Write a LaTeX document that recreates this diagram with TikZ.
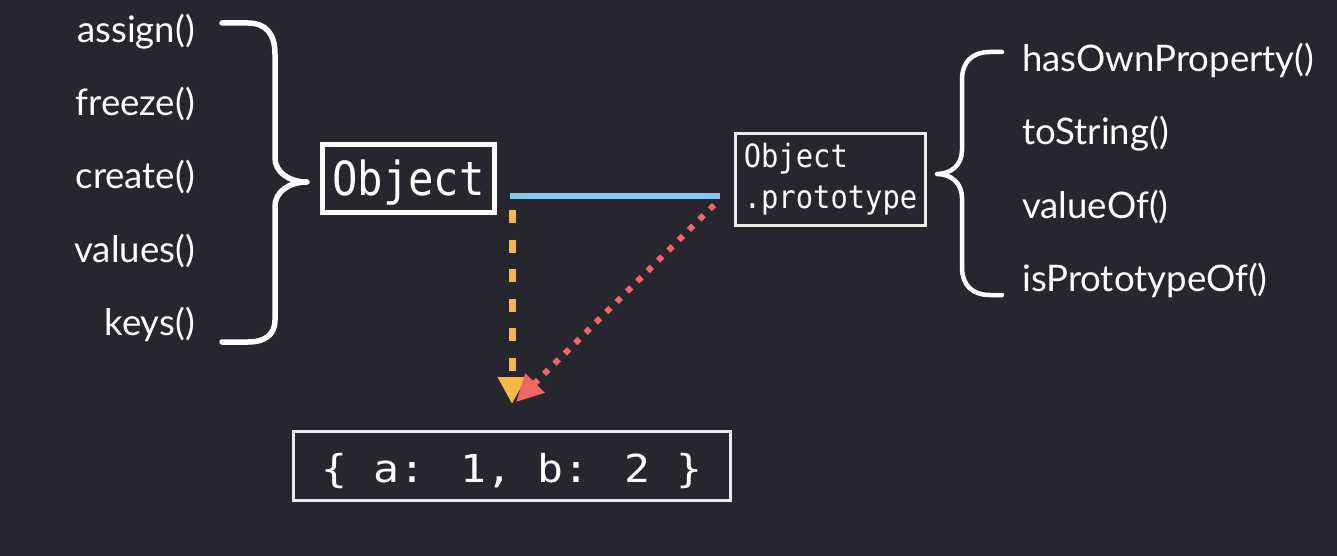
\documentclass[tikz,border=0pt]{standalone}
\usepackage{fontspec}
\setmainfont{Lato}
\newfontfamily\codefont[FakeStretch=0.9]{DejaVu Sans Mono}
\newfontfamily\codewide[FakeStretch=1.12]{DejaVu Sans Mono}
\usetikzlibrary{arrows.meta,calc}
\definecolor{bg}{RGB}{38,38,46}
\definecolor{linkblue}{RGB}{128,200,240}
\definecolor{linkyellow}{RGB}{245,185,66}
\definecolor{linkred}{RGB}{240,102,102}
\definecolor{chalk}{RGB}{235,235,235}
\tikzset{
  lbl/.style={text=white, inner sep=0pt, font=\fontsize{36.6}{42}\selectfont},
  bracestroke/.style={draw=white, line width=5.5pt, line cap=round, line join=round},
  mainbox/.style={draw=white, line width=5pt, inner sep=0pt, text=white,
    font=\codefont\fontsize{47}{50}\selectfont},
  chalkbox/.style={draw=chalk, line width=3pt, inner sep=0pt, text=white},
}
\begin{document}
\begin{tikzpicture}[x=1pt,y=-1pt]
\path[fill=bg, use as bounding box] (0,0) rectangle (1337,556);

% left labels
\node[lbl, anchor=base east] (l1) at (195,43) {assign()};
\node[lbl, anchor=base east] (l2) at (195,116) {freeze()};
\node[lbl, anchor=base east] (l3) at (195,189) {create()};
\node[lbl, anchor=base east] (l4) at (195,262) {values()};
\node[lbl, anchor=base east] (l5) at (195,335) {keys()};

% left closing brace
\draw[bracestroke] (222,23) -- (248,23)
  .. controls (266,23) and (275,34) .. (275,54) -- (275,158)
  .. controls (275,172) and (289,182) .. (307,182)
  .. controls (289,182) and (275,192) .. (275,206) -- (275,320)
  .. controls (275,334) and (266,342) .. (248,342) -- (222,342);

% Object box
\node[mainbox, minimum width=172pt, minimum height=68pt,
      text height=35pt, text depth=2pt] (obj) at (408.5,178.5) {Object};

% Object.prototype box
\node[chalkbox, minimum width=190pt, minimum height=92pt, align=left,
      font=\codefont\fontsize{32}{41}\selectfont] (proto) at (830.5,179.5) {Object\\.prototype};

% right opening brace
\draw[bracestroke, line width=4.5pt] (1002,52) -- (990,52)
  .. controls (972,52) and (962,62) .. (962,80) -- (962,150)
  .. controls (962,165) and (951,174) .. (937,174)
  .. controls (951,174) and (962,183) .. (962,198) -- (962,267)
  .. controls (962,285) and (972,295) .. (990,295) -- (1002,295);

% right labels
\node[lbl, anchor=base west] (r1) at (1022,72) {hasOwnProperty()};
\node[lbl, anchor=base west] (r2) at (1022,145) {toString()};
\node[lbl, anchor=base west] (r3) at (1022,218) {valueOf()};
\node[lbl, anchor=base west] (r4) at (1022,291) {isPrototypeOf()};

% bottom object literal box
\node[chalkbox, minimum width=437pt, minimum height=69pt,
      text height=34pt, text depth=2pt,
      font=\codewide\fontsize{38.5}{42}\selectfont] (bot) at (512,466) {\{ a: 1, b: 2 \}};

% connectors
\coordinate (A) at ($(obj.east)+(13,17.5)$);
\coordinate (B) at ($(proto.west)+(-14,16.5)$);
\coordinate (T) at ($(bot.north)+(0,-26)$);
\draw[linkblue, line width=6.5pt] (A) -- (B);
\draw[linkyellow, line width=7pt, dash pattern=on 13pt off 16.5pt,
      -{Triangle[length=27pt,width=27pt]}] ($(A)+(2,14)$) -- (T);
\draw[linkred, line width=6pt, dash pattern=on 6pt off 8.6pt,
      -{Triangle[length=27pt,width=26pt]}] ($(B)+(-6,9)$) -- ($(T)+(4,-2)$);
\end{tikzpicture}
\end{document}
